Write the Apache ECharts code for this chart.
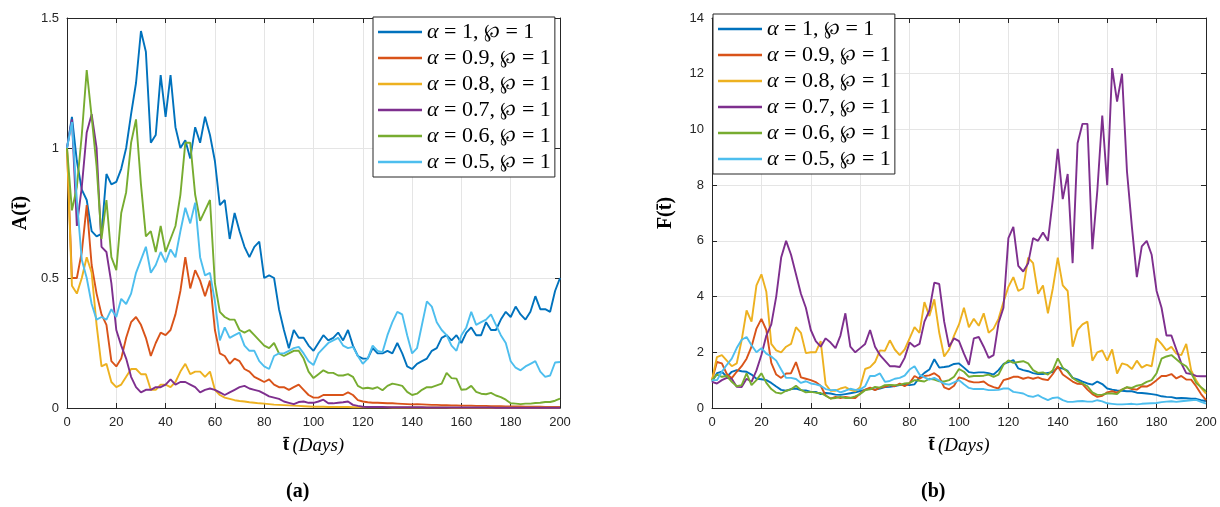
<!DOCTYPE html>
<html>
<head>
<meta charset="utf-8">
<title>A(t) and F(t) for several alpha</title>
<script src="https://cdn.jsdelivr.net/npm/echarts@6/dist/echarts.min.js"></script>
<style>
  html, body { margin: 0; padding: 0; background: #fff; }
  #chart { width: 1220px; height: 507px; }
</style>
</head>
<body>
<div id="chart"></div>
<script>
// sampled every 2 days, 0..200
const days = [];
for (let d = 0; d <= 200; d += 2) days.push(d);

const seriesNames = ['α = 1, ℘ = 1', 'α = 0.9, ℘ = 1', 'α = 0.8, ℘ = 1',
                     'α = 0.7, ℘ = 1', 'α = 0.6, ℘ = 1', 'α = 0.5, ℘ = 1'];
const colors = ['#0072BD', '#D95319', '#EDB120', '#7E2F8E', '#77AC30', '#4DBEEE'];

// ---- panel (a): A(t) ----
const aAlpha10 = [
  1.0, 1.12, 0.95, 0.84, 0.80, 0.68, 0.66, 0.67, 0.90, 0.86,
  0.87, 0.92, 1.00, 1.13, 1.25, 1.45, 1.37, 1.02, 1.05, 1.28,
  1.12, 1.28, 1.08, 1.00, 1.03, 0.96, 1.08, 1.02, 1.12, 1.05,
  0.95, 0.78, 0.80, 0.65, 0.75, 0.68, 0.62, 0.58, 0.62, 0.64,
  0.50, 0.51, 0.50, 0.38, 0.30, 0.23, 0.30, 0.27, 0.27, 0.24,
  0.22, 0.25, 0.28, 0.26, 0.27, 0.29, 0.26, 0.30, 0.24, 0.20,
  0.19, 0.19, 0.23, 0.21, 0.21, 0.22, 0.21, 0.25, 0.21, 0.16,
  0.15, 0.17, 0.18, 0.19, 0.22, 0.23, 0.27, 0.28, 0.26, 0.28,
  0.25, 0.29, 0.31, 0.28, 0.28, 0.33, 0.30, 0.30, 0.34, 0.37,
  0.35, 0.39, 0.36, 0.34, 0.37, 0.43, 0.38, 0.38, 0.37, 0.45,
  0.50
];
const aAlpha09 = [
  1.0, 0.50, 0.50, 0.60, 0.78, 0.55, 0.44, 0.36, 0.32, 0.18,
  0.16, 0.19, 0.27, 0.33, 0.35, 0.32, 0.27, 0.20, 0.25, 0.29,
  0.28, 0.30, 0.36, 0.45, 0.58, 0.46, 0.53, 0.49, 0.43, 0.49,
  0.30, 0.21, 0.20, 0.17, 0.19, 0.18, 0.15, 0.14, 0.12, 0.11,
  0.10, 0.11, 0.09, 0.08, 0.08, 0.07, 0.08, 0.09, 0.07, 0.05,
  0.04, 0.04, 0.05, 0.05, 0.05, 0.05, 0.05, 0.06, 0.05, 0.03,
  0.025, 0.022, 0.02, 0.02, 0.019, 0.018, 0.018, 0.017, 0.016, 0.015,
  0.014, 0.015, 0.014, 0.013, 0.012, 0.012, 0.011, 0.011, 0.01, 0.01,
  0.009, 0.009, 0.009, 0.008, 0.008, 0.008, 0.007, 0.007, 0.007, 0.006,
  0.006, 0.006, 0.006, 0.005, 0.005, 0.005, 0.005, 0.004, 0.004, 0.004,
  0.004
];
const aAlpha08 = [
  1.0, 0.47, 0.44, 0.50, 0.58, 0.52, 0.32, 0.16, 0.17, 0.10,
  0.08, 0.09, 0.12, 0.15, 0.15, 0.13, 0.13, 0.07, 0.07, 0.09,
  0.09, 0.08, 0.10, 0.14, 0.17, 0.13, 0.14, 0.14, 0.12, 0.14,
  0.07, 0.05, 0.04, 0.035, 0.03, 0.027, 0.025, 0.022, 0.02, 0.018,
  0.017, 0.015, 0.013, 0.012, 0.011, 0.01, 0.009, 0.008, 0.007, 0.006,
  0.005, 0.005, 0.005, 0.004, 0.004, 0.004, 0.004, 0.004, 0.003, 0.003,
  0.003, 0.003, 0.003, 0.003, 0.003, 0.003, 0.002, 0.002, 0.002, 0.002,
  0.002, 0.002, 0.002, 0.002, 0.002, 0.002, 0.002, 0.002, 0.001, 0.001,
  0.001, 0.001, 0.001, 0.001, 0.001, 0.001, 0.001, 0.001, 0.001, 0.001,
  0.001, 0.001, 0.001, 0.001, 0.001, 0.001, 0.001, 0.001, 0.001, 0.001,
  0.001
];
const aAlpha07 = [
  1.0, 1.11, 0.70, 0.85, 1.06, 1.13, 1.0, 0.62, 0.60, 0.48,
  0.30, 0.24, 0.19, 0.12, 0.08, 0.06, 0.07, 0.07, 0.08, 0.08,
  0.09, 0.11, 0.09, 0.10, 0.10, 0.09, 0.08, 0.06, 0.07, 0.075,
  0.07, 0.06, 0.05, 0.06, 0.07, 0.08, 0.085, 0.075, 0.07, 0.065,
  0.055, 0.045, 0.04, 0.035, 0.025, 0.02, 0.015, 0.023, 0.025, 0.02,
  0.02, 0.025, 0.032, 0.018, 0.018, 0.02, 0.022, 0.025, 0.012, 0.008,
  0.005, 0.004, 0.004, 0.004, 0.004, 0.003, 0.003, 0.003, 0.003, 0.003,
  0.003, 0.003, 0.003, 0.002, 0.002, 0.002, 0.002, 0.002, 0.002, 0.002,
  0.002, 0.002, 0.002, 0.002, 0.002, 0.002, 0.002, 0.001, 0.001, 0.001,
  0.001, 0.001, 0.001, 0.001, 0.001, 0.001, 0.001, 0.001, 0.001, 0.001,
  0.001
];
const aAlpha06 = [
  1.0, 0.76, 0.85, 1.05, 1.30, 1.12, 0.93, 0.65, 0.80, 0.58,
  0.53, 0.75, 0.83, 1.02, 1.11, 0.86, 0.66, 0.68, 0.60, 0.70,
  0.60, 0.65, 0.70, 0.82, 1.02, 1.02, 0.82, 0.72, 0.76, 0.80,
  0.48, 0.37, 0.35, 0.34, 0.34, 0.30, 0.29, 0.30, 0.28, 0.26,
  0.24, 0.23, 0.25, 0.21, 0.20, 0.21, 0.22, 0.22, 0.19, 0.14,
  0.115, 0.13, 0.145, 0.135, 0.135, 0.125, 0.125, 0.13, 0.12, 0.085,
  0.075, 0.078, 0.074, 0.08, 0.068, 0.085, 0.094, 0.09, 0.085, 0.062,
  0.05, 0.055, 0.07, 0.08, 0.08, 0.087, 0.094, 0.135, 0.115, 0.113,
  0.07, 0.072, 0.085, 0.062, 0.055, 0.053, 0.058, 0.048, 0.042, 0.032,
  0.018, 0.017, 0.015, 0.017, 0.017, 0.019, 0.02, 0.023, 0.023, 0.028,
  0.036
];
const aAlpha05 = [
  1.0, 1.10, 0.80, 0.57, 0.50, 0.40, 0.34, 0.35, 0.34, 0.38,
  0.35, 0.42, 0.40, 0.44, 0.52, 0.57, 0.62, 0.52, 0.55, 0.60,
  0.56, 0.61, 0.58, 0.68, 0.77, 0.71, 0.79, 0.58, 0.51, 0.52,
  0.41, 0.26, 0.31, 0.27, 0.28, 0.29, 0.24, 0.22, 0.22, 0.18,
  0.16, 0.15, 0.20, 0.21, 0.21, 0.22, 0.23, 0.235, 0.21, 0.18,
  0.165, 0.21, 0.23, 0.25, 0.26, 0.27, 0.24, 0.23, 0.235, 0.20,
  0.17, 0.19, 0.24, 0.22, 0.215, 0.28, 0.33, 0.37, 0.36, 0.28,
  0.21, 0.23, 0.32, 0.41, 0.39, 0.33, 0.30, 0.28, 0.24, 0.22,
  0.28, 0.31, 0.37, 0.32, 0.33, 0.34, 0.36, 0.32, 0.28, 0.25,
  0.18, 0.155, 0.145, 0.16, 0.17, 0.18, 0.14, 0.12, 0.125, 0.175,
  0.177
];

// ---- panel (b): F(t) ----
const fAlpha10 = [
  0.94, 1.25, 1.3, 1.12, 1.3, 1.36, 1.32, 1.3, 1.2, 1.05,
  1.03, 1.0, 0.9, 0.77, 0.65, 0.62, 0.68, 0.7, 0.64, 0.63,
  0.58, 0.58, 0.5, 0.54, 0.52, 0.48, 0.47, 0.5, 0.53, 0.56,
  0.61, 0.65, 0.7, 0.66, 0.7, 0.75, 0.76, 0.79, 0.82, 0.84,
  0.82, 0.85, 1.1, 1.26, 1.38, 1.75, 1.45, 1.47, 1.5, 1.58,
  1.6, 1.45, 1.29, 1.26, 1.28, 1.28, 1.25, 1.2, 1.36, 1.58,
  1.65, 1.72, 1.42, 1.36, 1.32, 1.25, 1.22, 1.22, 1.26, 1.29,
  1.45, 1.42, 1.33, 1.08, 1.03, 0.95, 0.88, 0.84, 0.95, 0.86,
  0.7, 0.66, 0.63, 0.62, 0.6, 0.6, 0.55, 0.54, 0.52, 0.5,
  0.47, 0.42, 0.4, 0.39, 0.35, 0.36, 0.35, 0.33, 0.33, 0.28,
  0.25
];
const fAlpha09 = [
  1.0, 1.65, 1.6, 1.22, 1.07, 1.3, 1.5, 1.77, 2.2, 2.85,
  3.2, 2.8, 1.62, 1.2, 1.08, 1.24, 1.25, 1.65, 1.1, 1.05,
  1.0, 0.93, 0.8, 0.45, 0.34, 0.4, 0.36, 0.4, 0.37, 0.36,
  0.52, 0.66, 0.73, 0.64, 0.73, 0.76, 0.82, 0.78, 0.88, 0.78,
  0.9, 1.15, 1.05, 1.15, 1.17, 1.25, 1.12, 0.74, 0.67, 0.8,
  1.1, 1.05, 0.96, 0.92, 0.92, 0.95, 0.82, 0.75, 0.7, 1.0,
  1.05, 1.12, 1.12, 1.05, 1.1, 1.05, 1.1, 1.03, 1.0, 1.22,
  1.5, 1.2, 1.08, 0.95, 0.87, 0.86, 0.66, 0.5, 0.4, 0.44,
  0.56, 0.6, 0.55, 0.66, 0.74, 0.68, 0.66, 0.78, 0.77, 0.86,
  1.0, 1.15, 1.15, 1.22, 1.06, 1.15, 1.02, 1.02, 0.78, 0.5,
  0.28
];
const fAlpha08 = [
  1.0, 1.83, 1.9, 1.7, 1.5, 1.6, 2.43, 3.5, 3.1, 4.4,
  4.8, 4.17, 2.3, 2.07, 2.0, 2.2, 2.3, 2.9, 2.7, 1.97,
  2.0, 2.0, 2.4, 0.85, 0.62, 0.62, 0.7, 0.75, 0.65, 0.6,
  0.75, 1.4, 1.47, 1.65, 2.07, 2.05, 2.43, 2.1, 1.9, 2.1,
  2.5, 2.9, 2.7, 3.8, 3.3, 3.9, 2.7, 1.85, 2.1, 2.6,
  3.0, 3.6, 2.9, 3.2, 2.95, 3.4, 2.7, 2.85, 3.2, 3.8,
  4.35, 4.7, 4.2, 4.3, 5.4, 5.2, 4.1, 4.4, 3.4, 4.3,
  5.4, 4.4, 4.2, 2.2, 2.8, 3.0, 3.1, 1.7, 2.0, 2.07,
  1.7, 2.1, 1.24, 1.6, 1.55, 1.4, 1.7, 1.45, 1.55, 1.5,
  2.5, 2.3, 2.07, 2.2, 1.95, 1.9, 2.3, 1.35, 1.0, 0.72,
  0.52
];
const fAlpha07 = [
  0.94, 0.88, 1.0, 1.08, 1.05, 0.76, 0.75, 1.05, 0.94, 1.35,
  1.9, 2.6, 3.0, 4.0, 5.4, 6.0, 5.5, 4.8, 4.1, 3.6,
  2.8, 2.4, 2.2, 2.5, 2.35, 2.15, 2.6, 3.4, 2.2, 2.0,
  2.15, 2.3, 2.8, 2.2, 1.9, 1.7, 1.5, 1.5, 1.47, 1.8,
  2.35, 2.2, 2.3, 3.1, 3.5, 4.5, 4.45, 3.1, 2.2, 2.5,
  2.4, 1.95, 1.55, 2.5, 2.55, 2.2, 1.8, 1.9, 3.05, 3.6,
  6.1, 6.5, 5.1, 4.9, 5.2, 6.1, 6.0, 6.3, 6.0, 7.5,
  9.3, 7.5, 8.4, 5.2, 9.5, 10.2, 10.2, 5.7, 7.8, 10.5,
  8.0, 12.2, 11.0, 12.0, 8.5, 6.5, 4.7, 5.8, 6.0, 5.5,
  4.2, 3.6, 2.6, 2.6, 2.1, 1.6, 1.25, 1.22, 1.15, 1.14,
  1.14
];
const fAlpha06 = [
  1.0, 1.2, 1.12, 1.15, 0.94, 0.78, 0.82, 1.24, 0.82, 1.0,
  1.25, 0.9, 0.68, 0.55, 0.52, 0.62, 0.67, 0.8, 0.65, 0.56,
  0.58, 0.55, 0.54, 0.44, 0.34, 0.36, 0.4, 0.36, 0.36, 0.42,
  0.5, 0.64, 0.67, 0.76, 0.73, 0.82, 0.83, 0.82, 0.83, 0.88,
  0.9, 1.0, 0.98, 0.95, 1.05, 1.02, 0.96, 0.95, 1.0, 1.12,
  1.4, 1.3, 1.12, 1.15, 1.15, 1.16, 1.2, 1.12, 1.2, 1.55,
  1.71, 1.62, 1.65, 1.68, 1.6, 1.36, 1.26, 1.28, 1.2, 1.36,
  1.78, 1.45, 1.3, 1.08, 0.96, 0.88, 0.78, 0.56, 0.47, 0.48,
  0.52, 0.52, 0.5, 0.66, 0.75, 0.72, 0.8, 0.84, 0.94, 1.0,
  1.25, 1.77, 1.85, 1.9, 1.75, 1.6, 1.5, 1.25, 0.9, 0.75,
  0.6
];
const fAlpha05 = [
  1.0, 1.0, 1.3, 1.55, 1.77, 2.15, 2.45, 2.55, 2.25, 2.0,
  2.15, 1.95, 1.85, 1.7, 1.38, 1.08, 1.08, 1.04, 0.9, 0.96,
  0.88, 0.85, 0.8, 0.68, 0.64, 0.65, 0.56, 0.62, 0.69, 0.65,
  0.67, 0.78, 1.15, 1.15, 1.24, 0.94, 0.97, 1.05, 1.08, 1.16,
  1.38, 1.5, 1.2, 1.1, 1.02, 1.08, 0.98, 0.87, 0.84, 0.92,
  1.0, 0.85, 0.72, 0.68, 0.68, 0.68, 0.64, 0.64, 0.65, 0.7,
  0.7, 0.58, 0.55, 0.52, 0.43, 0.4, 0.46, 0.36, 0.28, 0.36,
  0.38, 0.28, 0.22, 0.22, 0.24, 0.25, 0.23, 0.23, 0.28, 0.24,
  0.17, 0.15, 0.13, 0.13, 0.14, 0.15, 0.13, 0.15, 0.16, 0.17,
  0.18, 0.21, 0.23, 0.24, 0.22, 0.24, 0.26, 0.28, 0.29, 0.22,
  0.16
];

const panelA = [aAlpha10, aAlpha09, aAlpha08, aAlpha07, aAlpha06, aAlpha05];
const panelB = [fAlpha10, fAlpha09, fAlpha08, fAlpha07, fAlpha06, fAlpha05];

const INK = '#262626';
const GRIDLINE = '#e5e5e5';
const TICK_FONT = { color: INK, fontSize: 13, fontFamily: 'Liberation Sans, Arial, sans-serif' };
const SERIF = 'Liberation Serif, DejaVu Serif, serif';

function pairs(vals) {
  return vals.map(function (v, i) { return [days[i], v]; });
}

function mainX(gridIndex) {
  return {
    type: 'value', gridIndex: gridIndex, min: 0, max: 200, interval: 20,
    axisLine: { show: true, onZero: false, lineStyle: { color: INK, width: 1 } },
    axisTick: { inside: true, length: 5, lineStyle: { color: INK } },
    axisLabel: Object.assign({ margin: 8 }, TICK_FONT),
    splitLine: { show: true, lineStyle: { color: GRIDLINE, width: 1 } },
    name: '{b|t\u0304} {i|(Days)}',
    nameLocation: 'middle', nameGap: 28,
    nameTextStyle: {
      rich: {
        b: { fontFamily: SERIF, fontWeight: 'bold', fontSize: 19, color: '#000' },
        i: { fontFamily: SERIF, fontStyle: 'italic', fontSize: 19, color: '#000' }
      }
    }
  };
}
function topX(gridIndex) {
  return {
    type: 'value', gridIndex: gridIndex, position: 'top', min: 0, max: 200, interval: 20,
    axisLine: { show: true, onZero: false, lineStyle: { color: INK, width: 1 } },
    axisTick: { inside: true, length: 5, lineStyle: { color: INK } },
    axisLabel: { show: false }, splitLine: { show: false }
  };
}
function mainY(gridIndex, max, interval, label) {
  return {
    type: 'value', gridIndex: gridIndex, min: 0, max: max, interval: interval,
    axisLine: { show: true, onZero: false, lineStyle: { color: INK, width: 1 } },
    axisTick: { inside: true, length: 5, lineStyle: { color: INK } },
    axisLabel: Object.assign({ margin: 8 }, TICK_FONT),
    splitLine: { show: true, lineStyle: { color: GRIDLINE, width: 1 } },
    name: label, nameLocation: 'middle', nameRotate: 90, nameGap: 36,
    nameTextStyle: { fontFamily: SERIF, fontWeight: 'bold', fontSize: 20, color: '#000' }
  };
}
function rightY(gridIndex, max, interval) {
  return {
    type: 'value', gridIndex: gridIndex, position: 'right', min: 0, max: max, interval: interval,
    axisLine: { show: true, onZero: false, lineStyle: { color: INK, width: 1 } },
    axisTick: { inside: true, length: 5, lineStyle: { color: INK } },
    axisLabel: { show: false }, splitLine: { show: false }
  };
}

function legendFor(left, top) {
  return {
    orient: 'vertical', left: left, top: top,
    data: seriesNames,
    icon: 'rect', itemWidth: 44, itemHeight: 2.5, itemGap: 4,
    backgroundColor: '#fff', borderColor: INK, borderWidth: 1, borderRadius: 0,
    padding: [4, 4, 4, 5],
    selectedMode: false,
    formatter: function (n) {
      return n.replace('α', '{g|α}').replace('℘', '{p|℘}');
    },
    textStyle: {
      fontFamily: SERIF, fontSize: 22, color: '#000', lineHeight: 20,
      rich: {
        g: { fontFamily: SERIF, fontStyle: 'italic', fontSize: 22, color: '#000', lineHeight: 20 },
        p: { fontFamily: 'DejaVu Serif, serif', fontSize: 19, color: '#000', lineHeight: 20 }
      }
    }
  };
}

const series = [];
panelA.forEach(function (vals, k) {
  series.push({
    name: seriesNames[k], type: 'line', xAxisIndex: 0, yAxisIndex: 0,
    data: pairs(vals), showSymbol: false, symbol: 'none',
    lineStyle: { color: colors[k], width: 1.9 }, itemStyle: { color: colors[k] }
  });
});
panelB.forEach(function (vals, k) {
  series.push({
    name: seriesNames[k], type: 'line', xAxisIndex: 2, yAxisIndex: 2,
    data: pairs(vals), showSymbol: false, symbol: 'none',
    lineStyle: { color: colors[k], width: 1.9 }, itemStyle: { color: colors[k] }
  });
});

const chart = echarts.init(document.getElementById('chart'), null, { renderer: 'canvas' });
chart.setOption({
  animation: false,
  backgroundColor: '#fff',
  grid: [
    { left: 67, right: 660, top: 18, bottom: 99 },
    { left: 712, right: 14, top: 18, bottom: 99 }
  ],
  xAxis: [mainX(0), topX(0), mainX(1), topX(1)],
  yAxis: [
    mainY(0, 1.5, 0.5, 'A(t\u0304)'), rightY(0, 1.5, 0.5),
    mainY(1, 14, 2, 'F(t\u0304)'), rightY(1, 14, 2)
  ],
  legend: [legendFor(373, 17), legendFor(713, 14)],
  series: series,
  graphic: [
    { type: 'text', left: 286, top: 482,
      style: { text: '(a)', font: 'bold 20px ' + SERIF, fill: '#000' } },
    { type: 'text', left: 921, top: 482,
      style: { text: '(b)', font: 'bold 20px ' + SERIF, fill: '#000' } }
  ]
});
</script>
</body>
</html>
